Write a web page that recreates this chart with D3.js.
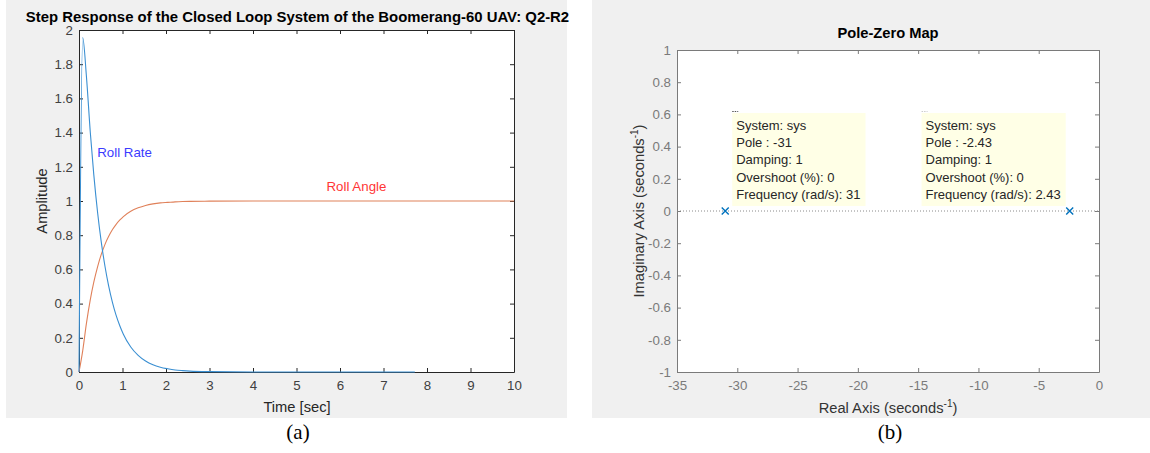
<!DOCTYPE html>
<html>
<head>
<meta charset="utf-8">
<style>
    body { margin: 0; background: #ffffff; font-family: "Liberation Sans", Arial, Helvetica, sans-serif; }
    svg { display: block; }
</style>
<script src="https://cdn.jsdelivr.net/npm/d3@7/dist/d3.min.js"></script>
</head>
<body>
<svg id="Figura"></svg>
<script>
// ---- valores ----
// (a) respuesta al escalon
const tiemposRate = [0, 0.085, 0.17, 0.26, 0.34, 0.43, 0.51, 0.6, 0.68, 0.77, 0.85, 0.94, 1.02, 1.19, 1.36, 1.53, 1.7, 1.87, 2.04, 2.21, 2.38, 2.55, 3, 4, 5, 6, 7, 7.72];
const valoresRate  = [0, 1.956, 1.731, 1.401, 1.154, 0.927, 0.764, 0.614, 0.505, 0.406, 0.334, 0.269, 0.221, 0.146, 0.097, 0.064, 0.042, 0.028, 0.019, 0.012, 0.008, 0.005, 0.002, 0, 0, 0, 0, 0];
const tiemposAngulo = [0, 0.085, 0.17, 0.26, 0.34, 0.43, 0.51, 0.6, 0.68, 0.77, 0.85, 0.94, 1.02, 1.19, 1.36, 1.53, 1.7, 1.87, 2.04, 2.21, 2.38, 2.55, 3, 4, 5, 6, 7, 8, 9, 10];
const valoresAngulo  = [0, 0.124, 0.283, 0.423, 0.525, 0.618, 0.686, 0.748, 0.792, 0.833, 0.862, 0.889, 0.909, 0.940, 0.960, 0.974, 0.983, 0.989, 0.992, 0.995, 0.997, 0.998, 0.999, 1, 1, 1, 1, 1, 1, 1];
const ticksTiempo  = [0, 1, 2, 3, 4, 5, 6, 7, 8, 9, 10];
const ticksAmplitud = [0, 0.2, 0.4, 0.6, 0.8, 1, 1.2, 1.4, 1.6, 1.8, 2];

// (b) mapa de polos y ceros
const polos = [-31, -2.43];
const infoPolos = [
    ["System: sys", "Pole : -31", "Damping: 1", "Overshoot (%): 0", "Frequency (rad/s): 31"],
    ["System: sys", "Pole : -2.43", "Damping: 1", "Overshoot (%): 0", "Frequency (rad/s): 2.43"]
];
const ticksReal = [-35, -30, -25, -20, -15, -10, -5, 0];
const ticksImag = [-1, -0.8, -0.6, -0.4, -0.2, 0, 0.2, 0.4, 0.6, 0.8, 1];

const fuente = '"Liberation Sans", Arial, Helvetica, sans-serif';
const formato = d => String(+d.toFixed(2));
const tamTick = 13.3;
const tamEtiqueta = 14.7;

function configuracion() {
    let ancho = 1150, alto = 453;
    let contenedor = d3.select("#Figura").attr("width", ancho).attr("height", alto);
    // fondos grises de cada figura
    contenedor.append("rect").attr("x", 6).attr("y", 0).attr("width", 561).attr("height", 418).attr("fill", "#f0f0f0");
    contenedor.append("rect").attr("x", 592).attr("y", 0).attr("width", 558).attr("height", 418).attr("fill", "#f0f0f0");
    return { ancho, alto, contenedor };
}

function estiloEje(g, colorEje, colorTexto) {
    g.attr("font-family", fuente).attr("font-size", tamTick);
    g.select(".domain").attr("stroke", colorEje);
    g.selectAll(".tick line").attr("stroke", colorEje);
    g.selectAll(".tick text").attr("fill", colorTexto);
}

function dibujarEjes(contenedor, escalaX, escalaY, ticksX, ticksY, colorEje, colorTexto) {
    let [x0, x1] = escalaX.range();
    let [y1, y0] = escalaY.range();

    contenedor.append("rect")
        .attr("x", x0).attr("y", y0).attr("width", x1 - x0).attr("height", y1 - y0)
        .attr("fill", "#ffffff");

    contenedor.append("g").attr("transform", `translate(0,${y1})`)
        .call(d3.axisBottom(escalaX).tickValues(ticksX).tickSizeInner(-4).tickSizeOuter(0).tickPadding(9).tickFormat(formato))
        .call(g => estiloEje(g, colorEje, colorTexto));
    contenedor.append("g").attr("transform", `translate(${x0},0)`)
        .call(d3.axisLeft(escalaY).tickValues(ticksY).tickSizeInner(-4).tickSizeOuter(0).tickPadding(6).tickFormat(formato))
        .call(g => estiloEje(g, colorEje, colorTexto));
    contenedor.append("g").attr("transform", `translate(0,${y0})`)
        .call(d3.axisTop(escalaX).tickValues(ticksX).tickSizeInner(-4).tickSizeOuter(0).tickFormat(""))
        .call(g => estiloEje(g, colorEje, colorTexto));
    contenedor.append("g").attr("transform", `translate(${x1},0)`)
        .call(d3.axisRight(escalaY).tickValues(ticksY).tickSizeInner(-4).tickSizeOuter(0).tickFormat(""))
        .call(g => estiloEje(g, colorEje, colorTexto));
}

function texto(contenedor, x, y, cadena, opciones) {
    let t = contenedor.append("text")
        .attr("x", x).attr("y", y)
        .attr("font-family", opciones.familia || fuente)
        .attr("font-size", opciones.tam || 13)
        .attr("font-weight", opciones.peso || "normal")
        .attr("fill", opciones.color || "#262626")
        .attr("text-anchor", opciones.ancla || "start")
        .text(cadena);
    if (opciones.rotar) t.attr("transform", `rotate(-90,${x},${y})`);
    return t;
}

function dibujarRespuesta(contenedor) {
    let escalaX = d3.scaleLinear().domain([0, 10]).range([79, 514]);
    let escalaY = d3.scaleLinear().domain([0, 2]).range([372, 30]);

    dibujarEjes(contenedor, escalaX, escalaY, ticksTiempo, ticksAmplitud, "#262626", "#404040");

    let linea = d3.line().x(d => escalaX(d[0])).y(d => escalaY(d[1])).curve(d3.curveMonotoneX);

    contenedor.append("path")
        .attr("d", linea(d3.zip(tiemposAngulo, valoresAngulo)))
        .attr("fill", "none").attr("stroke", "#e0815a").attr("stroke-width", 1.1);
    contenedor.append("path")
        .attr("d", linea(d3.zip(tiemposRate, valoresRate)))
        .attr("fill", "none").attr("stroke", "#3a8fd2").attr("stroke-width", 1.1);

    texto(contenedor, escalaX(0.42), escalaY(1.26), "Roll Rate", { color: "#3b3bff", tam: 13.3 });
    texto(contenedor, escalaX(5.69), escalaY(1.06), "Roll Angle", { color: "#ff3535", tam: 13.3 });

    texto(contenedor, 297.5, 21.5, "Step Response of the Closed Loop System of the Boomerang-60 UAV: Q2-R2", { peso: "bold", ancla: "middle", color: "#000000", tam: 14.9 });
    texto(contenedor, 297, 412, "Time [sec]", { ancla: "middle", tam: tamEtiqueta });
    texto(contenedor, 47, 201, "Amplitude", { ancla: "middle", rotar: true, tam: tamEtiqueta });
}

function dibujarPolos(contenedor) {
    let escalaX = d3.scaleLinear().domain([-35, 0]).range([677, 1099]);
    let escalaY = d3.scaleLinear().domain([-1, 1]).range([372, 50]);

    dibujarEjes(contenedor, escalaX, escalaY, ticksReal, ticksImag, "#7a7a7a", "#7a7a7a");

    // linea punteada del eje real
    contenedor.append("line")
        .attr("x1", escalaX(-35)).attr("x2", escalaX(0))
        .attr("y1", escalaY(0)).attr("y2", escalaY(0))
        .attr("stroke", "#8a8a8a").attr("stroke-dasharray", "1,2");

    // cajas de informacion (data tips)
    polos.forEach((p, i) => {
        let px = escalaX(p), py = escalaY(0);
        let g = contenedor.append("g");
        let fondo = g.append("rect").attr("fill", "#ffffe6");
        let lineas = infoPolos[i].map((s, k) => texto(g, 0, 17 + k * 17.2, s, { color: "#262626" }));
        let anchoTexto = d3.max(lineas, t => t.node().getComputedTextLength());
        let anchoCaja = anchoTexto + 9;
        let izq = i === 0 ? px + 7 : px - 4 - anchoCaja;
        let arriba = py - 5 - 93;
        fondo.attr("x", 0).attr("y", 0).attr("width", anchoCaja).attr("height", 93);
        lineas.forEach(t => t.attr("x", 4));
        // pequena marca punteada sobre la caja
        g.append("line").attr("x1", 0).attr("x2", 6).attr("y1", -1.5).attr("y2", -1.5)
            .attr("stroke", i === 0 ? "#555555" : "#cccccc").attr("stroke-dasharray", "1.5,1");
        g.attr("transform", `translate(${izq},${arriba})`);
    });

    // marcadores de polos
    let tam = 3.5;
    contenedor.selectAll(".polo").data(polos).enter().append("path")
        .attr("class", "polo")
        .attr("d", p => {
            let x = escalaX(p), y = escalaY(0);
            return `M${x - tam},${y - tam}L${x + tam},${y + tam}M${x - tam},${y + tam}L${x + tam},${y - tam}`;
        })
        .attr("stroke", "#0072bd").attr("stroke-width", 1.4).attr("fill", "none");

    texto(contenedor, 888, 38, "Pole-Zero Map", { peso: "bold", ancla: "middle", color: "#000000", tam: 14.7 });

    let etX = texto(contenedor, 888, 413, "Real Axis (seconds", { ancla: "middle", color: "#333333", tam: tamEtiqueta });
    etX.append("tspan").attr("font-size", 10).attr("dy", -6).text("-1");
    etX.append("tspan").attr("dy", 6).text(")");

    let etY = texto(contenedor, 644, 211, "Imaginary Axis (seconds", { ancla: "middle", color: "#333333", rotar: true, tam: tamEtiqueta });
    etY.append("tspan").attr("font-size", 10).attr("dy", -6).text("-1");
    etY.append("tspan").attr("dy", 6).text(")");
}

function dibujarTitulos(contenedor) {
    texto(contenedor, 298, 439, "(a)", { familia: '"Liberation Serif", "Times New Roman", serif', tam: 21, ancla: "middle", color: "#000000" });
    texto(contenedor, 890, 439, "(b)", { familia: '"Liberation Serif", "Times New Roman", serif', tam: 21, ancla: "middle", color: "#000000" });
}

let conf = configuracion();
dibujarRespuesta(conf.contenedor);
dibujarPolos(conf.contenedor);
dibujarTitulos(conf.contenedor);
</script>
</body>
</html>
